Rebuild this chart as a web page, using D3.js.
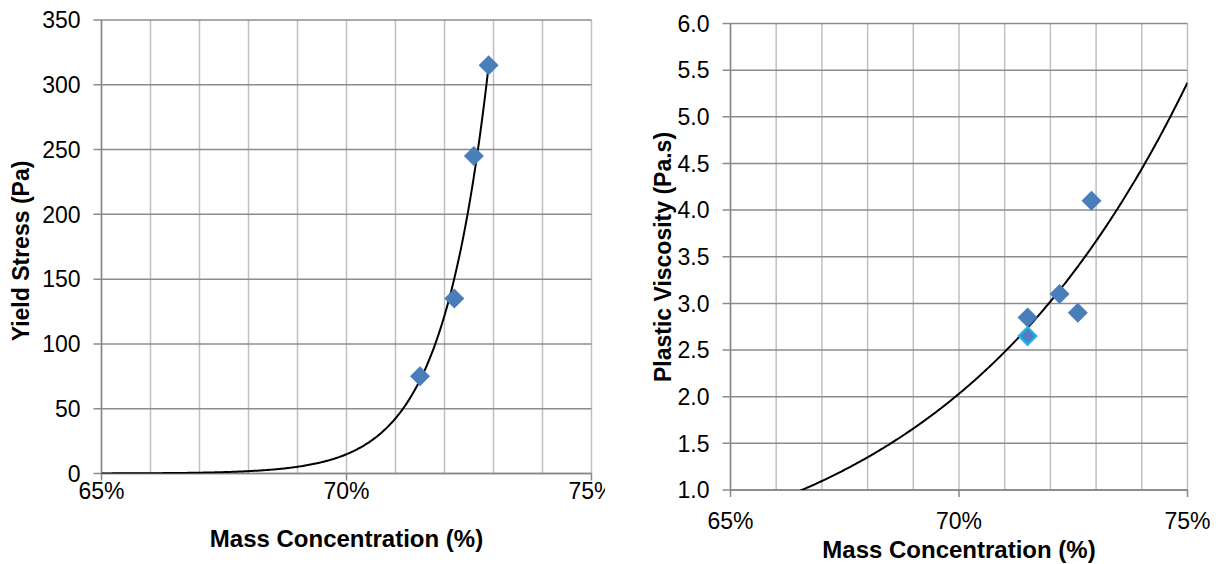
<!DOCTYPE html>
<html>
<head>
<meta charset="utf-8">
<script src="https://cdn.jsdelivr.net/npm/d3@7"></script>
<style>
  body { margin: 0; background: #fff; }
  svg text { font-family: "Liberation Sans", Arial, sans-serif; fill: #000; }
  .tick-lbl { font-size: 23px; }
  .title { font-size: 23px; font-weight: bold; }
  .xtitle { font-size: 24px; }
</style>
</head>
<body>
<svg id="chart" width="1218" height="564"></svg>
<script>
// ---- data ----
var massConc = [0.715, 0.722, 0.726, 0.729];
var yieldStress = [75, 135, 245, 315];

var viscConc = [0.715, 0.722, 0.726, 0.729];
var plasticVisc = [2.85, 3.1, 2.9, 4.1];
// second (outlined) series on the viscosity plot
var extraConc = [0.715];
var extraVisc = [2.65];

var xTicks = [0.65, 0.70, 0.75];
var yieldTicks = [0, 50, 100, 150, 200, 250, 300, 350];
var viscTicks = [1.0, 1.5, 2.0, 2.5, 3.0, 3.5, 4.0, 4.5, 5.0, 5.5, 6.0];

var svg = d3.select("#chart");
var pct = d3.format(".0%");
var markerColor = "#4a7ebb";

// least squares on log values, like the excel trendlines
// kind = "exp" -> y = a*e^(bx), kind = "power" -> y = a*x^b
function trendFit(xs, ys, kind) {
    var lx = kind == "power" ? xs.map(function(v) { return Math.log(v); }) : xs;
    var ly = ys.map(function(v) { return Math.log(v); });
    var mx = d3.mean(lx), my = d3.mean(ly);
    var sxy = 0, sxx = 0;
    for (var i = 0; i < lx.length; i++) {
        sxy += (lx[i] - mx) * (ly[i] - my);
        sxx += (lx[i] - mx) * (lx[i] - mx);
    }
    var b = sxy / sxx;
    var a = Math.exp(my - b * mx);
    if (kind == "power") return function(x) { return a * Math.pow(x, b); };
    return function(x) { return a * Math.exp(b * x); };
}

function drawChart(opt) {
    var g = svg.append("g");
    if (opt.clipWidth) {
        var cid = "clip-" + opt.id;
        svg.append("clipPath").attr("id", cid)
            .append("rect").attr("x", 0).attr("y", 0).attr("width", opt.clipWidth).attr("height", 564);
        g.attr("clip-path", "url(#" + cid + ")");
    }

    var x = d3.scaleLinear().domain([0.65, 0.75]).range([opt.left, opt.right]);
    var y = d3.scaleLinear().domain(opt.yDomain).range([opt.bottom, opt.top]);

    // vertical grid every 1%
    var vGrid = d3.range(0, 11).map(function(i) { return 0.65 + i * 0.01; });
    g.selectAll(".vgrid").data(vGrid).enter().append("line")
        .attr("x1", function(d) { return x(d); })
        .attr("x2", function(d) { return x(d); })
        .attr("y1", opt.top).attr("y2", opt.bottom)
        .attr("stroke", "#c0c0c0").attr("stroke-width", 1.5);

    // horizontal grid at the y ticks
    g.selectAll(".hgrid").data(opt.yTicks).enter().append("line")
        .attr("x1", opt.left - 8).attr("x2", opt.right)
        .attr("y1", function(d) { return y(d); })
        .attr("y2", function(d) { return y(d); })
        .attr("stroke", "#8c8c8c").attr("stroke-width", 1.5);

    // axis lines
    g.append("line").attr("x1", opt.left).attr("x2", opt.left)
        .attr("y1", opt.top).attr("y2", opt.bottom)
        .attr("stroke", "#868686").attr("stroke-width", 1.5);
    g.append("line").attr("x1", opt.left).attr("x2", opt.right)
        .attr("y1", opt.bottom).attr("y2", opt.bottom)
        .attr("stroke", "#868686").attr("stroke-width", 1.5);
    g.selectAll(".xtick").data(xTicks).enter().append("line")
        .attr("x1", function(d) { return x(d); })
        .attr("x2", function(d) { return x(d); })
        .attr("y1", opt.bottom).attr("y2", opt.bottom + 7)
        .attr("stroke", "#868686").attr("stroke-width", 1.5);

    // tick labels
    g.selectAll(".ylbl").data(opt.yTicks).enter().append("text")
        .attr("class", "tick-lbl")
        .attr("x", opt.left - 21)
        .attr("y", function(d) { return y(d); })
        .attr("dy", "0.36em")
        .attr("text-anchor", "end")
        .text(opt.yFormat);
    g.selectAll(".xlbl").data(xTicks).enter().append("text")
        .attr("class", "tick-lbl")
        .attr("x", function(d) { return x(d); })
        .attr("y", opt.bottom + opt.xLblOffset)
        .attr("text-anchor", "middle")
        .text(function(d) { return pct(d); });

    // titles
    g.append("text").attr("class", "title xtitle")
        .attr("x", (opt.left + opt.right) / 2)
        .attr("y", opt.xTitleY)
        .attr("text-anchor", "middle")
        .text("Mass Concentration (%)");
    g.append("text").attr("class", "title")
        .attr("transform", "translate(" + opt.yTitleX + "," + opt.yTitleY + ") rotate(-90)")
        .attr("text-anchor", "middle")
        .text(opt.yTitle);

    // trendline
    var pid = "plot-" + opt.id;
    svg.append("clipPath").attr("id", pid)
        .append("rect").attr("x", opt.left).attr("y", opt.top)
        .attr("width", opt.right - opt.left).attr("height", opt.bottom - opt.top);
    var fit = trendFit(opt.xs, opt.ys, opt.trendKind);
    var tx = d3.range(0, 301).map(function(i) { return 0.65 + i * (opt.trendEnd - 0.65) / 300; });
    var line = d3.line()
        .x(function(d) { return x(d); })
        .y(function(d) { return y(fit(d)); });
    g.append("path").datum(tx)
        .attr("clip-path", "url(#" + pid + ")")
        .attr("d", line)
        .attr("fill", "none")
        .attr("stroke", "#000").attr("stroke-width", 2);

    // markers
    var diamond = d3.symbol().type(d3.symbolSquare).size(200);
    g.selectAll(".pt").data(opt.xs).enter().append("path")
        .attr("d", diamond)
        .attr("transform", function(d, i) {
            return "translate(" + x(d) + "," + y(opt.ys[i]) + ") rotate(45)";
        })
        .attr("fill", markerColor);

    if (opt.extraX) {
        g.selectAll(".pt2").data(opt.extraX).enter().append("path")
            .attr("d", d3.symbol().type(d3.symbolSquare).size(160))
            .attr("transform", function(d, i) {
                return "translate(" + x(d) + "," + y(opt.extraY[i]) + ") rotate(45)";
            })
            .attr("fill", "#4f81bd")
            .attr("stroke", "#1fb5f0").attr("stroke-width", 2);
    }
}

drawChart({
    id: "yield",
    clipWidth: 605,
    left: 101.5, right: 591.5, top: 20, bottom: 473.5,
    yDomain: [0, 350], yTicks: yieldTicks,
    yFormat: function(d) { return d; },
    xLblOffset: 25, xTitleY: 547,
    yTitle: "Yield Stress (Pa)", yTitleX: 29, yTitleY: 251,
    xs: massConc, ys: yieldStress,
    trendKind: "exp",
    trendEnd: d3.max(massConc)
});

drawChart({
    id: "visc",
    left: 730.5, right: 1187.5, top: 23.5, bottom: 490,
    yDomain: [1, 6], yTicks: viscTicks,
    yFormat: d3.format(".1f"),
    xLblOffset: 39, xTitleY: 558,
    yTitle: "Plastic Viscosity (Pa.s)", yTitleX: 671, yTitleY: 257,
    xs: viscConc, ys: plasticVisc,
    extraX: extraConc, extraY: extraVisc,
    trendKind: "power",
    trendEnd: 0.75
});
</script>
</body>
</html>
